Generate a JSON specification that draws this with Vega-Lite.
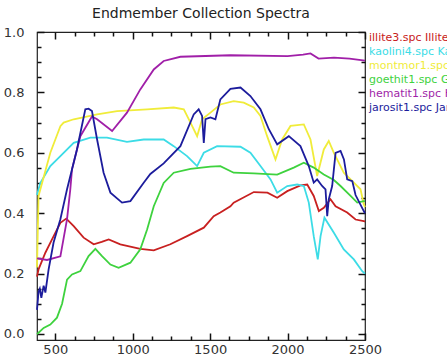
{
  "$schema": "https://vega.github.io/schema/vega-lite/v6.json",
  "width": 328,
  "height": 308,
  "autosize": {"type": "none"},
  "padding": {"left": 37, "top": 32, "right": 82, "bottom": 17},
  "background": "white",
  "title": {"text": "Endmember Collection Spectra", "fontSize": 14, "font": "DejaVu Sans", "fontWeight": "normal", "color": "#222", "offset": 5, "anchor": "middle"},
  "config": {
    "view": {"stroke": "#222", "strokeWidth": 1.2},
    "axis": {"domain": false, "ticks": true, "tickColor": "#111", "tickWidth": 1.5, "tickOpacity": 1, "labelFont": "DejaVu Sans", "labelFontSize": 13, "labelColor": "#333", "grid": false, "title": null, "labelOverlap": false, "labelFlush": false, "zindex": 5}
  },
  "data": {"values": [
    {"s":"illite3.spc Illite","w":382,"r":0.19},{"s":"illite3.spc Illite","w":392,"r":0.214},{"s":"illite3.spc Illite","w":436,"r":0.269},{"s":"illite3.spc Illite","w":479,"r":0.313},{"s":"illite3.spc Illite","w":533,"r":0.368},{"s":"illite3.spc Illite","w":571,"r":0.382},{"s":"illite3.spc Illite","w":619,"r":0.357},{"s":"illite3.spc Illite","w":683,"r":0.319},{"s":"illite3.spc Illite","w":748,"r":0.297},{"s":"illite3.spc Illite","w":800,"r":0.305},{"s":"illite3.spc Illite","w":845,"r":0.313},{"s":"illite3.spc Illite","w":920,"r":0.297},{"s":"illite3.spc Illite","w":1049,"r":0.282},{"s":"illite3.spc Illite","w":1136,"r":0.277},{"s":"illite3.spc Illite","w":1243,"r":0.297},{"s":"illite3.spc Illite","w":1351,"r":0.324},{"s":"illite3.spc Illite","w":1459,"r":0.352},{"s":"illite3.spc Illite","w":1523,"r":0.39},{"s":"illite3.spc Illite","w":1566,"r":0.402},{"s":"illite3.spc Illite","w":1631,"r":0.423},{"s":"illite3.spc Illite","w":1652,"r":0.435},{"s":"illite3.spc Illite","w":1782,"r":0.47},{"s":"illite3.spc Illite","w":1870,"r":0.468},{"s":"illite3.spc Illite","w":1933,"r":0.451},{"s":"illite3.spc Illite","w":1998,"r":0.473},{"s":"illite3.spc Illite","w":2083,"r":0.492},{"s":"illite3.spc Illite","w":2127,"r":0.495},{"s":"illite3.spc Illite","w":2169,"r":0.457},{"s":"illite3.spc Illite","w":2202,"r":0.407},{"s":"illite3.spc Illite","w":2234,"r":0.418},{"s":"illite3.spc Illite","w":2277,"r":0.446},{"s":"illite3.spc Illite","w":2310,"r":0.423},{"s":"illite3.spc Illite","w":2385,"r":0.402},{"s":"illite3.spc Illite","w":2439,"r":0.379},{"s":"illite3.spc Illite","w":2492,"r":0.374},{"s":"illite3.spc Illite","w":2500,"r":0.372},

    {"s":"kaolini4.spc Kaolinite","w":382,"r":0.46},{"s":"kaolini4.spc Kaolinite","w":403,"r":0.5},{"s":"kaolini4.spc Kaolinite","w":468,"r":0.556},{"s":"kaolini4.spc Kaolinite","w":533,"r":0.589},{"s":"kaolini4.spc Kaolinite","w":554,"r":0.6},{"s":"kaolini4.spc Kaolinite","w":619,"r":0.633},{"s":"kaolini4.spc Kaolinite","w":726,"r":0.65},{"s":"kaolini4.spc Kaolinite","w":834,"r":0.65},{"s":"kaolini4.spc Kaolinite","w":963,"r":0.636},{"s":"kaolini4.spc Kaolinite","w":1071,"r":0.644},{"s":"kaolini4.spc Kaolinite","w":1200,"r":0.644},{"s":"kaolini4.spc Kaolinite","w":1265,"r":0.622},{"s":"kaolini4.spc Kaolinite","w":1351,"r":0.589},{"s":"kaolini4.spc Kaolinite","w":1416,"r":0.556},{"s":"kaolini4.spc Kaolinite","w":1459,"r":0.6},{"s":"kaolini4.spc Kaolinite","w":1545,"r":0.622},{"s":"kaolini4.spc Kaolinite","w":1696,"r":0.62},{"s":"kaolini4.spc Kaolinite","w":1760,"r":0.6},{"s":"kaolini4.spc Kaolinite","w":1825,"r":0.556},{"s":"kaolini4.spc Kaolinite","w":1890,"r":0.512},{"s":"kaolini4.spc Kaolinite","w":1933,"r":0.468},{"s":"kaolini4.spc Kaolinite","w":1998,"r":0.49},{"s":"kaolini4.spc Kaolinite","w":2062,"r":0.495},{"s":"kaolini4.spc Kaolinite","w":2105,"r":0.49},{"s":"kaolini4.spc Kaolinite","w":2137,"r":0.435},{"s":"kaolini4.spc Kaolinite","w":2169,"r":0.324},{"s":"kaolini4.spc Kaolinite","w":2195,"r":0.247},{"s":"kaolini4.spc Kaolinite","w":2213,"r":0.324},{"s":"kaolini4.spc Kaolinite","w":2238,"r":0.385},{"s":"kaolini4.spc Kaolinite","w":2299,"r":0.335},{"s":"kaolini4.spc Kaolinite","w":2363,"r":0.28},{"s":"kaolini4.spc Kaolinite","w":2428,"r":0.247},{"s":"kaolini4.spc Kaolinite","w":2482,"r":0.208},{"s":"kaolini4.spc Kaolinite","w":2500,"r":0.2},

    {"s":"montmor1.spc Montmorillonite","w":382,"r":0.22},{"s":"montmor1.spc Montmorillonite","w":392,"r":0.457},{"s":"montmor1.spc Montmorillonite","w":468,"r":0.6},{"s":"montmor1.spc Montmorillonite","w":533,"r":0.688},{"s":"montmor1.spc Montmorillonite","w":554,"r":0.7},{"s":"montmor1.spc Montmorillonite","w":619,"r":0.711},{"s":"montmor1.spc Montmorillonite","w":770,"r":0.727},{"s":"montmor1.spc Montmorillonite","w":899,"r":0.738},{"s":"montmor1.spc Montmorillonite","w":1093,"r":0.744},{"s":"montmor1.spc Montmorillonite","w":1265,"r":0.75},{"s":"montmor1.spc Montmorillonite","w":1330,"r":0.744},{"s":"montmor1.spc Montmorillonite","w":1373,"r":0.7},{"s":"montmor1.spc Montmorillonite","w":1416,"r":0.655},{"s":"montmor1.spc Montmorillonite","w":1448,"r":0.711},{"s":"montmor1.spc Montmorillonite","w":1502,"r":0.733},{"s":"montmor1.spc Montmorillonite","w":1566,"r":0.76},{"s":"montmor1.spc Montmorillonite","w":1652,"r":0.771},{"s":"montmor1.spc Montmorillonite","w":1717,"r":0.766},{"s":"montmor1.spc Montmorillonite","w":1782,"r":0.75},{"s":"montmor1.spc Montmorillonite","w":1825,"r":0.722},{"s":"montmor1.spc Montmorillonite","w":1868,"r":0.655},{"s":"montmor1.spc Montmorillonite","w":1922,"r":0.578},{"s":"montmor1.spc Montmorillonite","w":1965,"r":0.644},{"s":"montmor1.spc Montmorillonite","w":2019,"r":0.689},{"s":"montmor1.spc Montmorillonite","w":2105,"r":0.694},{"s":"montmor1.spc Montmorillonite","w":2148,"r":0.644},{"s":"montmor1.spc Montmorillonite","w":2191,"r":0.523},{"s":"montmor1.spc Montmorillonite","w":2234,"r":0.611},{"s":"montmor1.spc Montmorillonite","w":2266,"r":0.639},{"s":"montmor1.spc Montmorillonite","w":2299,"r":0.6},{"s":"montmor1.spc Montmorillonite","w":2363,"r":0.534},{"s":"montmor1.spc Montmorillonite","w":2428,"r":0.501},{"s":"montmor1.spc Montmorillonite","w":2471,"r":0.479},{"s":"montmor1.spc Montmorillonite","w":2492,"r":0.43},{"s":"montmor1.spc Montmorillonite","w":2500,"r":0.42},

    {"s":"goethit1.spc Goethite","w":382,"r":0.0},{"s":"goethit1.spc Goethite","w":392,"r":0.004},{"s":"goethit1.spc Goethite","w":425,"r":0.02},{"s":"goethit1.spc Goethite","w":468,"r":0.031},{"s":"goethit1.spc Goethite","w":511,"r":0.054},{"s":"goethit1.spc Goethite","w":544,"r":0.1},{"s":"goethit1.spc Goethite","w":576,"r":0.18},{"s":"goethit1.spc Goethite","w":608,"r":0.197},{"s":"goethit1.spc Goethite","w":662,"r":0.208},{"s":"goethit1.spc Goethite","w":715,"r":0.258},{"s":"goethit1.spc Goethite","w":759,"r":0.282},{"s":"goethit1.spc Goethite","w":802,"r":0.258},{"s":"goethit1.spc Goethite","w":856,"r":0.23},{"s":"goethit1.spc Goethite","w":909,"r":0.219},{"s":"goethit1.spc Goethite","w":985,"r":0.236},{"s":"goethit1.spc Goethite","w":1049,"r":0.28},{"s":"goethit1.spc Goethite","w":1093,"r":0.346},{"s":"goethit1.spc Goethite","w":1136,"r":0.423},{"s":"goethit1.spc Goethite","w":1200,"r":0.5},{"s":"goethit1.spc Goethite","w":1265,"r":0.534},{"s":"goethit1.spc Goethite","w":1373,"r":0.547},{"s":"goethit1.spc Goethite","w":1502,"r":0.554},{"s":"goethit1.spc Goethite","w":1566,"r":0.556},{"s":"goethit1.spc Goethite","w":1652,"r":0.534},{"s":"goethit1.spc Goethite","w":1782,"r":0.532},{"s":"goethit1.spc Goethite","w":1933,"r":0.528},{"s":"goethit1.spc Goethite","w":2040,"r":0.551},{"s":"goethit1.spc Goethite","w":2105,"r":0.567},{"s":"goethit1.spc Goethite","w":2169,"r":0.551},{"s":"goethit1.spc Goethite","w":2234,"r":0.528},{"s":"goethit1.spc Goethite","w":2299,"r":0.51},{"s":"goethit1.spc Goethite","w":2342,"r":0.49},{"s":"goethit1.spc Goethite","w":2407,"r":0.457},{"s":"goethit1.spc Goethite","w":2450,"r":0.435},{"s":"goethit1.spc Goethite","w":2492,"r":0.44},{"s":"goethit1.spc Goethite","w":2500,"r":0.44},

    {"s":"hematit1.spc   Hematite","w":382,"r":0.25},{"s":"hematit1.spc   Hematite","w":447,"r":0.245},{"s":"hematit1.spc   Hematite","w":533,"r":0.257},{"s":"hematit1.spc   Hematite","w":576,"r":0.38},{"s":"hematit1.spc   Hematite","w":597,"r":0.479},{"s":"hematit1.spc   Hematite","w":608,"r":0.545},{"s":"hematit1.spc   Hematite","w":662,"r":0.655},{"s":"hematit1.spc   Hematite","w":737,"r":0.72},{"s":"hematit1.spc   Hematite","w":770,"r":0.711},{"s":"hematit1.spc   Hematite","w":867,"r":0.672},{"s":"hematit1.spc   Hematite","w":963,"r":0.733},{"s":"hematit1.spc   Hematite","w":1049,"r":0.81},{"s":"hematit1.spc   Hematite","w":1136,"r":0.876},{"s":"hematit1.spc   Hematite","w":1200,"r":0.904},{"s":"hematit1.spc   Hematite","w":1308,"r":0.918},{"s":"hematit1.spc   Hematite","w":1631,"r":0.923},{"s":"hematit1.spc   Hematite","w":2000,"r":0.92},{"s":"hematit1.spc   Hematite","w":2100,"r":0.925},{"s":"hematit1.spc   Hematite","w":2148,"r":0.929},{"s":"hematit1.spc   Hematite","w":2200,"r":0.912},{"s":"hematit1.spc   Hematite","w":2300,"r":0.915},{"s":"hematit1.spc   Hematite","w":2400,"r":0.912},{"s":"hematit1.spc   Hematite","w":2500,"r":0.905},

    {"s":"jarosit1.spc Jarosite","w":382,"r":0.08},{"s":"jarosit1.spc Jarosite","w":392,"r":0.14},{"s":"jarosit1.spc Jarosite","w":400,"r":0.15},{"s":"jarosit1.spc Jarosite","w":410,"r":0.12},{"s":"jarosit1.spc Jarosite","w":425,"r":0.16},{"s":"jarosit1.spc Jarosite","w":436,"r":0.137},{"s":"jarosit1.spc Jarosite","w":457,"r":0.214},{"s":"jarosit1.spc Jarosite","w":489,"r":0.303},{"s":"jarosit1.spc Jarosite","w":533,"r":0.38},{"s":"jarosit1.spc Jarosite","w":576,"r":0.479},{"s":"jarosit1.spc Jarosite","w":640,"r":0.611},{"s":"jarosit1.spc Jarosite","w":694,"r":0.744},{"s":"jarosit1.spc Jarosite","w":715,"r":0.746},{"s":"jarosit1.spc Jarosite","w":737,"r":0.738},{"s":"jarosit1.spc Jarosite","w":770,"r":0.644},{"s":"jarosit1.spc Jarosite","w":812,"r":0.534},{"s":"jarosit1.spc Jarosite","w":856,"r":0.468},{"s":"jarosit1.spc Jarosite","w":931,"r":0.435},{"s":"jarosit1.spc Jarosite","w":985,"r":0.44},{"s":"jarosit1.spc Jarosite","w":1071,"r":0.501},{"s":"jarosit1.spc Jarosite","w":1114,"r":0.53},{"s":"jarosit1.spc Jarosite","w":1200,"r":0.565},{"s":"jarosit1.spc Jarosite","w":1308,"r":0.622},{"s":"jarosit1.spc Jarosite","w":1394,"r":0.727},{"s":"jarosit1.spc Jarosite","w":1426,"r":0.744},{"s":"jarosit1.spc Jarosite","w":1448,"r":0.722},{"s":"jarosit1.spc Jarosite","w":1459,"r":0.633},{"s":"jarosit1.spc Jarosite","w":1470,"r":0.711},{"s":"jarosit1.spc Jarosite","w":1502,"r":0.717},{"s":"jarosit1.spc Jarosite","w":1534,"r":0.711},{"s":"jarosit1.spc Jarosite","w":1566,"r":0.777},{"s":"jarosit1.spc Jarosite","w":1631,"r":0.812},{"s":"jarosit1.spc Jarosite","w":1696,"r":0.816},{"s":"jarosit1.spc Jarosite","w":1760,"r":0.788},{"s":"jarosit1.spc Jarosite","w":1825,"r":0.744},{"s":"jarosit1.spc Jarosite","w":1879,"r":0.678},{"s":"jarosit1.spc Jarosite","w":1933,"r":0.628},{"s":"jarosit1.spc Jarosite","w":2008,"r":0.655},{"s":"jarosit1.spc Jarosite","w":2083,"r":0.622},{"s":"jarosit1.spc Jarosite","w":2137,"r":0.556},{"s":"jarosit1.spc Jarosite","w":2169,"r":0.501},{"s":"jarosit1.spc Jarosite","w":2191,"r":0.512},{"s":"jarosit1.spc Jarosite","w":2223,"r":0.49},{"s":"jarosit1.spc Jarosite","w":2245,"r":0.479},{"s":"jarosit1.spc Jarosite","w":2256,"r":0.39},{"s":"jarosit1.spc Jarosite","w":2266,"r":0.446},{"s":"jarosit1.spc Jarosite","w":2288,"r":0.49},{"s":"jarosit1.spc Jarosite","w":2299,"r":0.545},{"s":"jarosit1.spc Jarosite","w":2310,"r":0.6},{"s":"jarosit1.spc Jarosite","w":2342,"r":0.606},{"s":"jarosit1.spc Jarosite","w":2364,"r":0.578},{"s":"jarosit1.spc Jarosite","w":2385,"r":0.512},{"s":"jarosit1.spc Jarosite","w":2418,"r":0.506},{"s":"jarosit1.spc Jarosite","w":2439,"r":0.46},{"s":"jarosit1.spc Jarosite","w":2492,"r":0.407},{"s":"jarosit1.spc Jarosite","w":2500,"r":0.4}
  ]},
  "layer": [
    {
      "mark": {"type": "line", "strokeWidth": 1.8},
      "encoding": {
        "x": {"field": "w", "type": "quantitative",
          "scale": {"domain": [382, 2500], "nice": false, "zero": false},
          "axis": {"orient": "bottom", "values": [500, 1000, 1500, 2000, 2500], "format": "d", "offset": -7, "tickSize": 7, "labelPadding": 3}},
        "y": {"field": "r", "type": "quantitative",
          "scale": {"domain": [-0.02, 1.0], "nice": false, "zero": false},
          "axis": {"orient": "left", "values": [0, 0.2, 0.4, 0.6, 0.8, 1.0], "format": ".1f", "offset": -7, "tickSize": 7, "labelPadding": 13}},
        "color": {"field": "s", "type": "nominal",
          "scale": {"domain": ["illite3.spc Illite", "kaolini4.spc Kaolinite", "montmor1.spc Montmorillonite", "goethit1.spc Goethite", "hematit1.spc   Hematite", "jarosit1.spc Jarosite"],
                    "range": ["#c82020", "#3cdce6", "#f0ec3a", "#3ed23e", "#a01fa8", "#1c1c9c"]},
          "legend": {"orient": "right", "offset": -11, "title": null, "padding": 0, "symbolSize": 0, "symbolStrokeWidth": 0, "symbolOpacity": 0, "labelOffset": 0, "labelFont": "DejaVu Sans", "labelFontSize": 11, "rowPadding": 2, "labelLimit": 400,
            "encode": {"labels": {"update": {"fill": {"scale": "color", "field": "value"}}}}}}
      }
    },
    {
      "mark": {"type": "point", "opacity": 0},
      "encoding": {
        "x": {"field": "w", "type": "quantitative",
          "scale": {"domain": [382, 2500], "nice": false, "zero": false},
          "axis": {"orient": "top", "values": [500, 1000, 1500, 2000, 2500], "labels": false, "offset": -7, "tickSize": 7}},
        "y": {"field": "r", "type": "quantitative",
          "scale": {"domain": [-0.02, 1.0], "nice": false, "zero": false},
          "axis": {"orient": "right", "values": [0, 0.2, 0.4, 0.6, 0.8, 1.0], "labels": false, "offset": -7, "tickSize": 7}}
      }
    },
    {
      "mark": {"type": "point", "opacity": 0},
      "encoding": {
        "x": {"field": "w", "type": "quantitative",
          "scale": {"domain": [382, 2500], "nice": false, "zero": false},
          "axis": {"orient": "bottom", "values": [625,750,875,1125,1250,1375,1625,1750,1875,2125,2250,2375], "labels": false, "offset": -4, "tickSize": 4}},
        "y": {"field": "r", "type": "quantitative",
          "scale": {"domain": [-0.02, 1.0], "nice": false, "zero": false},
          "axis": {"orient": "left", "values": [0.05,0.1,0.15,0.25,0.3,0.35,0.45,0.5,0.55,0.65,0.7,0.75,0.85,0.9,0.95], "labels": false, "offset": -4, "tickSize": 4}}
      }
    },
    {
      "mark": {"type": "point", "opacity": 0},
      "encoding": {
        "x": {"field": "w", "type": "quantitative",
          "scale": {"domain": [382, 2500], "nice": false, "zero": false},
          "axis": {"orient": "top", "values": [625,750,875,1125,1250,1375,1625,1750,1875,2125,2250,2375], "labels": false, "offset": -4, "tickSize": 4}},
        "y": {"field": "r", "type": "quantitative",
          "scale": {"domain": [-0.02, 1.0], "nice": false, "zero": false},
          "axis": {"orient": "right", "values": [0.05,0.1,0.15,0.25,0.3,0.35,0.45,0.5,0.55,0.65,0.7,0.75,0.85,0.9,0.95], "labels": false, "offset": -4, "tickSize": 4}}
      }
    }
  ],
  "resolve": {"scale": {"x": "independent", "y": "independent"}, "axis": {"x": "independent", "y": "independent"}}
}
